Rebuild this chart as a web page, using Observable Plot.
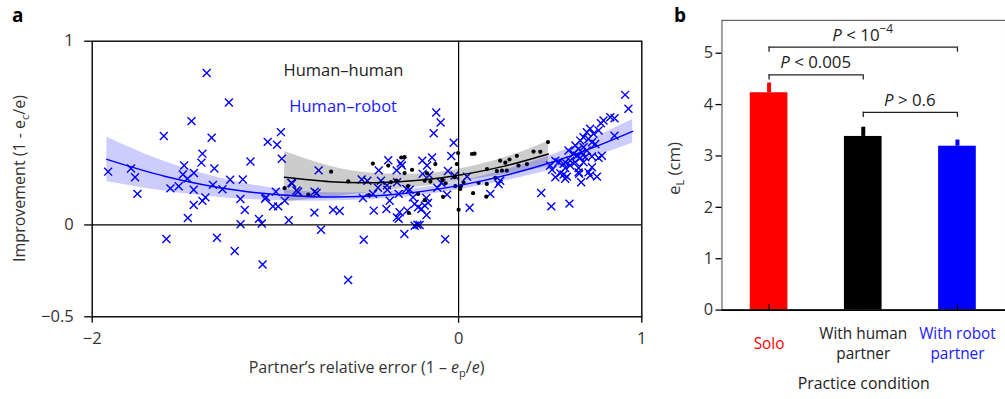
<!DOCTYPE html>
<html><head><meta charset="utf-8">
<script src="https://cdn.jsdelivr.net/npm/d3@7"></script>
<script src="https://cdn.jsdelivr.net/npm/@observablehq/plot@0.6"></script>
<style>
html,body{margin:0;padding:0;background:#fff;overflow:hidden;width:1005px;height:399px;}
#wrap{position:relative;width:1005px;height:399px;overflow:hidden;font-family:"Open Sans",sans-serif;}
#a,#b{position:absolute;top:0;}
#a{left:0;} #b{left:660px;}
.plab{position:absolute;font:bold 19px/19px "Open Sans",sans-serif;color:#000;}
</style></head><body>
<div id="wrap"><div id="a"></div><div id="b"></div>
<div class="plab" style="left:12px;top:6px">a</div>
<div class="plab" style="left:674px;top:6px">b</div></div>
<script>
// ---------- Panel a: scatter data ----------
const robotX = [-1.913,-1.788,-1.766,-1.753,-1.609,-1.458,-1.375,-1.254,-1.348,-1.398,-1.404,-1.498,-1.505,-1.445,-1.333,-1.573,-1.528,-1.446,-1.341,-1.289,-1.247,-1.178,-1.136,-1.042,-0.991,-0.970,-0.965,-0.909,-0.876,-0.775,-0.764,-0.998,-1.051,-1.191,-1.382,-1.480,-1.446,-1.398,-1.478,-1.167,-1.190,-1.090,-1.074,-1.056,-1.013,-0.985,-1.595,-1.319,-1.222,-1.070,-0.927,-0.787,-0.751,-0.949,-0.913,-0.885,-0.786,-0.685,-0.649,-0.603,-0.518,-0.529,-0.498,-0.522,-0.467,-0.463,-0.440,-0.436,-0.424,-0.391,-0.389,-0.394,-0.384,-0.376,-0.338,-0.336,-0.327,-0.316,-0.310,-0.337,-0.327,-0.322,-0.296,-0.280,-0.285,-0.267,-0.249,-0.240,-0.225,-0.213,-0.240,-0.221,-0.203,-0.185,-0.175,-0.167,-0.198,-0.145,-0.172,-0.196,-0.160,-0.176,-0.122,-0.098,-0.136,-0.027,-0.040,-0.058,-0.022,-0.116,-0.094,-0.063,-0.073,0.060,0.046,0.173,0.218,0.227,0.451,0.506,0.605,0.669,0.528,0.555,0.573,0.582,0.591,0.655,0.658,0.709,0.718,0.755,0.728,0.510,0.573,0.582,0.609,0.637,0.682,0.500,0.909,0.927,0.828,0.851,0.791,0.777,0.718,0.700,0.736,0.764,0.682,0.664,0.709,0.728,0.746,0.851,0.637,0.655,0.682,0.700,0.600,0.627,0.646,0.673,0.609,0.664,0.691,0.728,0.764,0.782,0.528,0.546,0.582,0.655];
const robotY = [0.290,0.307,0.260,0.169,0.484,0.565,0.827,0.666,0.474,0.388,0.339,0.323,0.274,0.283,0.307,0.199,0.211,0.192,0.218,0.194,0.246,0.247,0.345,0.452,0.436,0.505,0.360,0.225,0.181,0.174,0.297,0.181,0.150,0.141,0.150,0.252,0.109,0.131,0.038,0.081,0.004,0.033,0.008,0.142,0.101,0.101,-0.077,-0.070,-0.142,-0.215,0.026,0.067,-0.026,0.132,0.229,0.187,0.181,0.082,0.076,-0.300,-0.081,0.247,0.241,0.147,0.169,0.078,0.202,0.297,0.241,0.216,0.191,0.087,0.352,0.132,0.297,0.232,0.169,0.336,0.323,0.041,0.033,0.069,-0.049,0.078,0.196,0.191,0.150,-0.004,0.001,0.000,0.114,0.096,0.087,0.105,0.054,0.120,0.350,0.367,0.323,0.278,0.270,0.147,0.612,0.557,0.499,0.447,0.375,0.294,0.269,0.202,0.229,0.165,-0.078,0.093,0.263,0.169,0.223,0.241,0.174,0.101,0.116,0.232,0.259,0.281,0.274,0.251,0.263,0.286,0.278,0.286,0.269,0.263,0.314,0.300,0.332,0.341,0.323,0.341,0.341,0.323,0.708,0.632,0.586,0.581,0.568,0.553,0.523,0.504,0.496,0.514,0.477,0.459,0.468,0.450,0.441,0.486,0.432,0.414,0.423,0.405,0.405,0.387,0.377,0.395,0.350,0.365,0.368,0.372,0.365,0.377,0.350,0.341,0.310,0.310];
const humanX = [-0.950,-0.820,-0.696,-0.602,-0.489,-0.468,-0.384,-0.369,-0.340,-0.313,-0.295,-0.295,-0.254,-0.276,-0.272,-0.221,-0.185,-0.185,-0.172,-0.154,-0.127,-0.089,-0.071,-0.085,-0.003,-0.010,-0.022,-0.018,0.000,0.013,0.027,0.009,0.073,0.087,0.079,0.109,0.154,0.151,0.155,0.200,0.209,0.237,0.263,0.255,0.227,0.278,0.318,0.327,0.373,0.409,0.446,0.488];
const humanY = [0.200,0.165,0.290,0.237,0.162,0.334,0.323,0.233,0.241,0.367,0.369,0.282,0.300,0.212,0.065,0.169,0.135,0.241,0.281,0.236,0.331,0.245,0.227,0.153,0.391,0.331,0.259,0.211,0.083,0.212,0.232,0.196,0.386,0.388,0.173,0.229,0.223,0.154,0.304,0.256,0.293,0.296,0.296,0.339,0.350,0.356,0.376,0.323,0.331,0.399,0.398,0.451];

// Fitted curves with confidence bands
const robotFitX  = [-1.92,-1.6,-1.2,-0.8,-0.4,0,0.4,0.7,0.95];
const robotFitY  = [0.357,0.264,0.187,0.154,0.162,0.214,0.308,0.407,0.509];
const robotFitLo = [0.237,0.184,0.142,0.129,0.142,0.192,0.273,0.358,0.444];
const robotFitHi = [0.477,0.344,0.232,0.179,0.182,0.236,0.343,0.458,0.574];
const humanFitX  = [-0.95,-0.7,-0.45,-0.2,0,0.25,0.49];
const humanFitY  = [0.259,0.235,0.230,0.244,0.270,0.320,0.386];
const humanFitLo = [0.125,0.150,0.180,0.209,0.237,0.275,0.316];
const humanFitHi = [0.400,0.320,0.280,0.279,0.303,0.365,0.456];

const xTicksA = [-2, 0, 1];
const yTicksA = [-0.5, 0, 1];

// ---------- Panel b: bar data ----------
const conds = ["Solo", "With human\npartner", "With robot\npartner"];
const condMean = [4.23, 3.38, 3.19];
const condErr = [0.19, 0.18, 0.12];
const condColor = ["#ff0000", "#000000", "#0000ff"];
const condLabelColor = ["#ff0000", "#222222", "#1a1aff"];
const yTicksB = [0, 1, 2, 3, 4, 5];
const compFrom = [0, 0, 1];
const compTo = [2, 1, 2];
const compY = [5.12, 4.58, 3.85];
const compOp = ["<", "<", ">"];
const compVal = ["10", "0.005", "0.6"];
const compSup = ["\u22124", "", ""];

const FONT = "'Open Sans', sans-serif";
const BLUE = "#0000ff";

const robot = robotX.map((x, i) => ({x, y: robotY[i]}));
const human = humanX.map((x, i) => ({x, y: humanY[i]}));
const robotFit = robotFitX.map((x, i) => ({x, y: robotFitY[i], lo: robotFitLo[i], hi: robotFitHi[i]}));
const humanFit = humanFitX.map((x, i) => ({x, y: humanFitY[i], lo: humanFitLo[i], hi: humanFitHi[i]}));

const chartA = Plot.plot({
  width: 660, height: 399,
  marginLeft: 91.7, marginRight: 18.7, marginTop: 40.7, marginBottom: 82.7,
  style: {fontFamily: FONT, fontSize: "16.5px", color: "#222", background: "white", overflow: "visible"},
  x: {domain: [-2, 1]},
  y: {domain: [-0.5, 1]},
  marks: [
    Plot.dot(robot, {x: "x", y: "y", symbol: "times", r: 3.7, stroke: BLUE, strokeWidth: 1.4}),
    Plot.dot(human, {x: "x", y: "y", r: 2.1, fill: "black", stroke: null}),
    Plot.areaY(humanFit, {x: "x", y1: "lo", y2: "hi", fill: "black", fillOpacity: 0.2, curve: "natural"}),
    Plot.areaY(robotFit, {x: "x", y1: "lo", y2: "hi", fill: BLUE, fillOpacity: 0.2, curve: "natural"}),
    Plot.line(humanFit, {x: "x", y: "y", stroke: "black", strokeWidth: 1.5, curve: "natural"}),
    Plot.line(robotFit, {x: "x", y: "y", stroke: BLUE, strokeWidth: 1.5, curve: "natural"}),
    Plot.ruleX([0], {stroke: "black", strokeWidth: 1.2}),
    Plot.ruleY([0], {stroke: "black", strokeWidth: 1.2}),
    Plot.frame({stroke: "black", strokeWidth: 1.4}),
    Plot.text(["Human\u2013human"], {x: -0.956, y: 0.84, textAnchor: "start", lineAnchor: "middle", fill: "#222", fontSize: 16.5}),
    Plot.text(["Human\u2013robot"], {x: -0.924, y: 0.644, textAnchor: "start", lineAnchor: "middle", fill: "#1a1aff", fontSize: 16.5}),
    Plot.axisX({ticks: xTicksA, tickFormat: "~g", tickSize: 6.5, tickPadding: 9, label: null, stroke: "black", fill: "#333", strokeWidth: 1.3, fontSize: 16.5}),
    Plot.axisY({ticks: yTicksA, tickFormat: "~g", tickSize: 7.5, tickPadding: 11, label: null, stroke: "black", fill: "#333", strokeWidth: 1.3, fontSize: 16.5})
  ]
});
document.getElementById("a").appendChild(chartA);

const sa = d3.select(chartA);
const xl = sa.append("text").attr("x", 366.5).attr("y", 373).attr("text-anchor", "middle")
  .attr("font-size", 16).attr("fill", "#333").attr("font-family", FONT);
xl.append("tspan").text("Partner\u2019s relative error (1 \u2013 ");
xl.append("tspan").attr("font-style", "italic").text("e");
xl.append("tspan").attr("font-size", 11).attr("dy", 4).text("p");
xl.append("tspan").attr("dy", -4).text("/");
xl.append("tspan").attr("font-style", "italic").text("e");
xl.append("tspan").text(")");
const yl = sa.append("text").attr("transform", "translate(25,178.5) rotate(-90)").attr("text-anchor", "middle")
  .attr("font-size", 16).attr("fill", "#333").attr("font-family", FONT);
yl.append("tspan").text("Improvement (1 - e");
yl.append("tspan").attr("font-size", 11).attr("dy", 4).text("c");
yl.append("tspan").attr("dy", -4).text("/e)");

// ---------- Panel b ----------
const bars = conds.map((c, i) => ({i, c, m: condMean[i], e: condErr[i], col: condColor[i], lc: condLabelColor[i]}));
const comps = compFrom.map((f, k) => ({f, t: compTo[k], y: compY[k]}));

const chartB = Plot.plot({
  width: 348, height: 399,
  marginLeft: 62, marginRight: 0, marginTop: 20, marginBottom: 86.7,
  style: {fontFamily: FONT, fontSize: "16.5px", color: "#222", background: "white", overflow: "visible"},
  x: {domain: [-0.5, 2.51], axis: null},
  y: {domain: [0, 5.64]},
  color: {type: "identity"},
  marks: [
    Plot.rectY(bars, {x1: d => d.i - 0.2, x2: d => d.i + 0.2, y1: 0, y2: "m", fill: "col"}),
    Plot.ruleX(bars, {x: "i", y1: "m", y2: d => d.m + d.e, stroke: "col", strokeWidth: 4}),
    Plot.frame({stroke: "#444", strokeWidth: 1}),
    Plot.ruleY([0], {stroke: "black", strokeWidth: 1.6}),
    Plot.ruleX(bars, {x: "i", y1: 0, y2: 0.11, stroke: "black", strokeWidth: 1.2}),
    Plot.ruleY(comps, {x1: "f", x2: "t", y: "y", stroke: "#222", strokeWidth: 1.3}),
    Plot.ruleX(comps, {x: "f", y1: d => d.y - 0.1, y2: "y", stroke: "#222", strokeWidth: 1.3}),
    Plot.ruleX(comps, {x: "t", y1: d => d.y - 0.1, y2: "y", stroke: "#222", strokeWidth: 1.3}),
    Plot.text(bars, {x: "i", text: "c", fill: "lc", frameAnchor: "bottom", lineAnchor: "middle", dy: 33, lineHeight: 1.25, fontSize: 15.5}),
    Plot.text(["Practice condition"], {frameAnchor: "bottom", lineAnchor: "bottom", dy: 80, fill: "#222", fontSize: 16}),
    Plot.axisY({ticks: yTicksB, tickFormat: "~g", tickSize: 6, tickPadding: 3, label: null, stroke: "black", fill: "#333", strokeWidth: 1.3, fontSize: 16.5})
  ]
});
document.getElementById("b").appendChild(chartB);

const sb = d3.select(chartB);
const xs = chartB.scale("x"), ys = chartB.scale("y");
comps.forEach((c, k) => {
  const t = sb.append("text").attr("x", xs.apply((c.f + c.t) / 2)).attr("y", ys.apply(c.y) - 6)
    .attr("text-anchor", "middle").attr("font-size", 17).attr("fill", "#222").attr("font-family", FONT);
  t.append("tspan").attr("font-style", "italic").text("P");
  t.append("tspan").text(" " + compOp[k] + " " + compVal[k]);
  if (compSup[k]) t.append("tspan").attr("font-size", 12).attr("dy", -8).text(compSup[k]);
});
const ylb = sb.append("text").attr("transform", "translate(20,170) rotate(-90)").attr("text-anchor", "middle")
  .attr("font-size", 17).attr("fill", "#333").attr("font-family", FONT);
ylb.append("tspan").text("e");
ylb.append("tspan").attr("font-size", 11).attr("dy", 4).text("L");
ylb.append("tspan").attr("dy", -4).text(" (cm)");
</script>
</body></html>
